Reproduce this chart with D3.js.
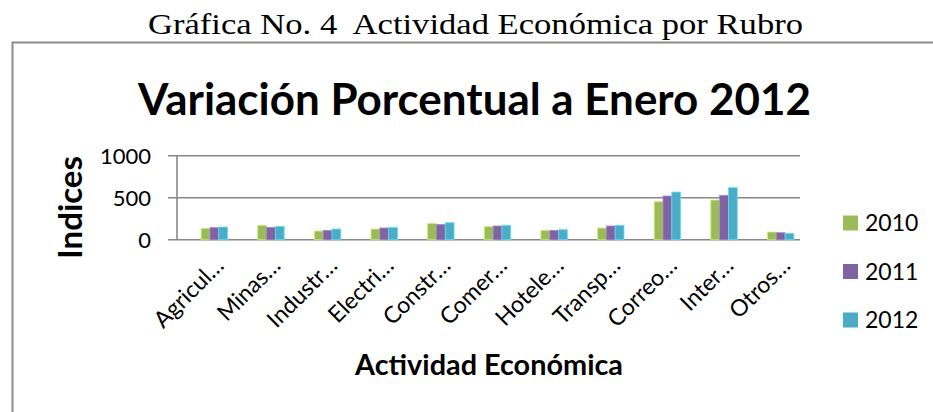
<!DOCTYPE html>
<html>
<head>
<meta charset="utf-8">
<script src="https://cdn.jsdelivr.net/npm/d3@7"></script>
<style>
  html, body { margin: 0; padding: 0; background: #fff; }
  svg { display: block; }
</style>
</head>
<body>
<div id="chart"></div>
<script>
const categories = ["Agricul…", "Minas…", "Industr…", "Electri…", "Constr…", "Comer…",
	"Hotele…", "Transp…", "Correo…", "Inter…", "Otros…"];
const series = ["2010", "2011", "2012"];
const values2010 = [135, 171, 103, 127, 194, 155, 111, 139, 452, 472, 91];
const values2011 = [143, 147, 111, 139, 179, 163, 111, 163, 520, 528, 83];
const values2012 = [151, 159, 127, 147, 202, 171, 119, 171, 567, 619, 75];
const yTicks = [0, 500, 1000];
const colors = ["#9bbb59", "#8064a2", "#4bacc6"];

const w = 933;
const h = 412;
const margin = { top: 155.7, bottom: 172.3, left: 177, right: 133 };

const svg = d3.select("#chart")
	.append("svg")
	.attr("width", w)
	.attr("height", h)
	.attr("viewBox", [0, 0, w, h]);

svg.append("rect").attr("width", w).attr("height", h).attr("fill", "#fff");

// page heading + frame
svg.append("text")
	.attr("x", 148).attr("y", 34)
	.attr("font-family", "'Liberation Serif', 'DejaVu Serif', serif")
	.attr("font-size", 30)
	.attr("textLength", 655)
	.attr("lengthAdjust", "spacingAndGlyphs")
	.style("white-space", "pre")
	.text("Gráfica No. 4  Actividad Económica por Rubro");

svg.append("path")
	.attr("d", `M12.5,${h} V42.5 H${w}`)
	.attr("fill", "none")
	.attr("stroke", "#8a8a8a")
	.attr("stroke-width", 2);

// chart title
svg.append("text")
	.attr("x", 138).attr("y", 115)
	.attr("font-family", "Lato, 'Open Sans', sans-serif")
	.attr("font-weight", "bold")
	.attr("font-size", 44)
	.attr("textLength", 673)
	.attr("lengthAdjust", "spacingAndGlyphs")
	.text("Variación Porcentual a Enero 2012");

const x = d3.scaleBand()
	.domain(categories)
	.range([margin.left, w - margin.right]);

// bars sit a bit right of the axis in the original
const groupShift = 9;
const xs = d3.scaleBand()
	.domain(series)
	.range([-13.2, 13.2]);

const y = d3.scaleLinear()
	.domain([0, 1000])
	.range([h - margin.bottom, margin.top]);

// grid
svg.append("g")
	.selectAll("line")
	.data(yTicks)
	.join("line")
		.attr("x1", margin.left - 9)
		.attr("x2", w - margin.right)
		.attr("y1", d => y(d))
		.attr("y2", d => y(d))
		.attr("stroke", "#878787")
		.attr("stroke-width", 1.6);

svg.append("line")
	.attr("x1", margin.left).attr("x2", margin.left)
	.attr("y1", y(1000)).attr("y2", y(0))
	.attr("stroke", "#878787")
	.attr("stroke-width", 1.6);

// y tick labels
svg.append("g")
	.attr("font-family", "Lato, 'Open Sans', sans-serif")
	.attr("font-size", 22)
	.attr("text-anchor", "end")
	.selectAll("text")
	.data(yTicks)
	.join("text")
		.attr("x", 151)
		.attr("y", d => y(d))
		.attr("dy", "0.36em")
		.text(d => d);

// bars
const table = categories.map((c, i) => ({
	cat: c,
	vals: [values2010[i], values2011[i], values2012[i]]
}));

svg.append("g")
	.selectAll("g")
	.data(table)
	.join("g")
		.attr("transform", d => `translate(${x(d.cat) + x.bandwidth() / 2 + groupShift},0)`)
	.selectAll("rect")
	.data(d => d.vals.map((v, k) => ({ s: series[k], v, k })))
	.join("rect")
		.attr("x", d => xs(d.s))
		.attr("y", d => y(d.v))
		.attr("width", xs.bandwidth())
		.attr("height", d => y(0) - y(d.v))
		.attr("fill", d => colors[d.k])
		.attr("stroke", d => d3.color(colors[d.k]).brighter(0.7))
		.attr("stroke-width", 0.8);

// category labels
svg.append("g")
	.attr("font-family", "Lato, 'Open Sans', sans-serif")
	.attr("font-size", 23)
	.attr("text-anchor", "end")
	.selectAll("text")
	.data(categories)
	.join("text")
		.attr("transform", d => `translate(${x(d) + x.bandwidth() / 2 + groupShift + 11},267) rotate(-45)`)
		.text(d => d);

// axis titles
svg.append("text")
	.attr("transform", "translate(82,207.5) rotate(-90)")
	.attr("text-anchor", "middle")
	.attr("font-family", "Lato, 'Open Sans', sans-serif")
	.attr("font-weight", "bold")
	.attr("font-size", 33)
	.text("Indices");

svg.append("text")
	.attr("x", 355).attr("y", 375)
	.attr("font-family", "Lato, 'Open Sans', sans-serif")
	.attr("font-weight", "bold")
	.attr("font-size", 28)
	.attr("textLength", 268)
	.attr("lengthAdjust", "spacingAndGlyphs")
	.text("Actividad Económica");

// legend
const legend = svg.append("g")
	.selectAll("g")
	.data(series)
	.join("g")
		.attr("transform", (d, i) => `translate(843,${223 + i * 48.5})`);

legend.append("rect")
	.attr("y", -7.5)
	.attr("width", 15)
	.attr("height", 15)
	.attr("fill", (d, i) => colors[i]);

legend.append("text")
	.attr("x", 22)
	.attr("dy", "0.36em")
	.attr("font-family", "Lato, 'Open Sans', sans-serif")
	.attr("font-size", 23)
	.text(d => d);
</script>
</body>
</html>
